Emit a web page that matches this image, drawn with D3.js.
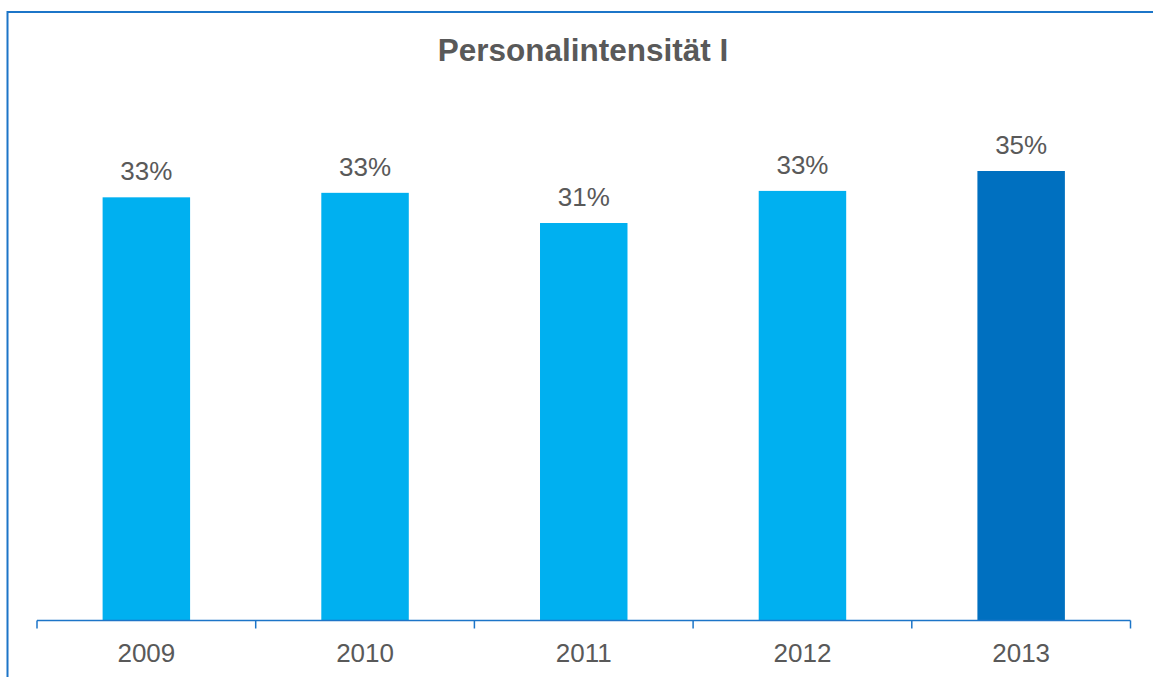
<!DOCTYPE html>
<html>
<head>
<meta charset="utf-8">
<script src="https://cdn.jsdelivr.net/npm/d3@7"></script>
<style>
  body { margin: 0; background: #fff; }
  text { font-family: Arial, "Liberation Sans", sans-serif; }
</style>
</head>
<body>
<svg id="chart"></svg>
<script>
// DATA
var years = ["2009", "2010", "2011", "2012", "2013"];
var values = [32.95, 33.3, 30.95, 33.45, 35.0];
var labels = ["33%", "33%", "31%", "33%", "35%"];
var title = "Personalintensität I";

// SIZES
var width = 1153;
var height = 677;
var axisY = 620.5;
var xLeft = 37, xRight = 1130.5;

// COLORS
var barColor = "#00B0F0";
var lastBarColor = "#0070C0";
var lineColor = "#1C75C8";
var textColor = "#595959";

var svg = d3.select("#chart")
    .attr("width", width)
    .attr("height", height);

// frame (runs past the right and bottom edge)
svg.append("rect")
    .attr("x", 7.5).attr("y", 12)
    .attr("width", width + 20).attr("height", height + 20)
    .attr("fill", "none")
    .attr("stroke", lineColor)
    .attr("stroke-width", 2);

svg.append("text")
    .text(title)
    .attr("x", 583)
    .attr("y", 61)
    .attr("text-anchor", "middle")
    .attr("font-size", 31.5)
    .attr("font-weight", "bold")
    .attr("fill", textColor);

var x = d3.scaleBand()
    .domain(years)
    .range([xLeft, xRight])
    .paddingInner(0.6)
    .paddingOuter(0.3);

var y = d3.scaleLinear()
    .domain([0, 35])
    .range([axisY, 171]);

svg.selectAll("rect.bar")
    .data(values)
    .enter()
    .append("rect")
    .attr("class", "bar")
    .attr("x", (d, i) => x(years[i]))
    .attr("y", d => y(d))
    .attr("width", x.bandwidth())
    .attr("height", d => axisY - y(d))
    .attr("fill", (d, i) => i == values.length - 1 ? lastBarColor : barColor);

svg.selectAll("text.val")
    .data(values)
    .enter()
    .append("text")
    .attr("class", "val")
    .attr("x", (d, i) => x(years[i]) + x.bandwidth() / 2)
    .attr("y", d => y(d) - 17)
    .attr("text-anchor", "middle")
    .attr("font-size", 26)
    .attr("fill", textColor)
    .text((d, i) => labels[i]);

// axis: line with ticks between categories
var ticks = d3.range(years.length + 1).map(i => xLeft + i * (xRight - xLeft) / years.length);
svg.append("line")
    .attr("x1", xLeft).attr("x2", xRight)
    .attr("y1", axisY).attr("y2", axisY)
    .attr("stroke", lineColor)
    .attr("stroke-width", 1.5);
svg.selectAll("line.tick")
    .data(ticks)
    .enter()
    .append("line")
    .attr("class", "tick")
    .attr("x1", d => d).attr("x2", d => d)
    .attr("y1", axisY).attr("y2", axisY + 8)
    .attr("stroke", lineColor)
    .attr("stroke-width", 1.5);

svg.selectAll("text.year")
    .data(years)
    .enter()
    .append("text")
    .attr("class", "year")
    .attr("x", d => x(d) + x.bandwidth() / 2)
    .attr("y", 662)
    .attr("text-anchor", "middle")
    .attr("font-size", 26)
    .attr("fill", textColor)
    .text(d => d);
</script>
</body>
</html>
